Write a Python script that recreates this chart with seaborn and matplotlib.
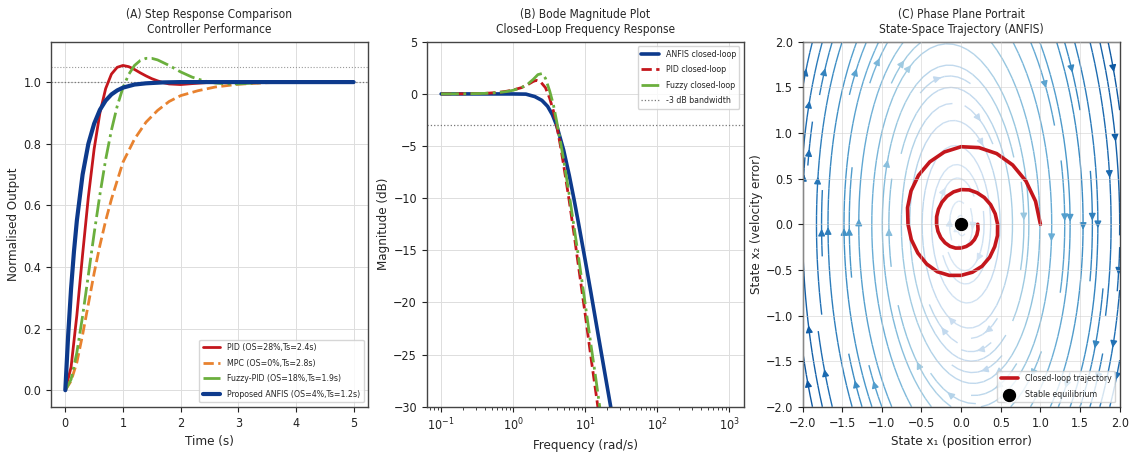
import numpy as np
import matplotlib
matplotlib.use("Agg")
import matplotlib.pyplot as plt
import seaborn as sns

sns.set_style("whitegrid")
plt.rcParams['font.family'] = ['DejaVu Sans']
plt.rcParams['font.stretch'] = 'condensed'
plt.rcParams.update({
    'axes.edgecolor': '#444444', 'axes.linewidth': 1.0,
    'xtick.bottom': True, 'ytick.left': True,
    'xtick.major.size': 3.5, 'ytick.major.size': 3.5,
    'xtick.color': '#222222', 'ytick.color': '#222222',
    'grid.color': '#dddddd', 'grid.linewidth': 0.7,
})

# ---------------- Panel A data: step responses ----------------
t_pid = [0, 0.1, 0.2, 0.3, 0.4, 0.5, 0.6, 0.7, 0.8, 0.9, 1.0, 1.1, 1.2, 1.3, 1.4, 1.5, 1.6, 1.7, 1.8, 2.0, 2.2, 2.5, 3.0, 4.0, 5.0]
y_pid = [0, 0.075, 0.243, 0.441, 0.628, 0.783, 0.900, 0.979, 1.026, 1.048, 1.054, 1.050, 1.041, 1.030, 1.020, 1.011, 1.004, 0.998, 0.994, 0.992, 0.995, 0.999, 1.0, 1.0, 1.0]

t_mpc = [0, 0.1, 0.2, 0.3, 0.4, 0.5, 0.6, 0.7, 0.8, 1.0, 1.2, 1.4, 1.6, 1.8, 2.0, 2.3, 2.6, 3.0, 3.5, 4.0, 5.0]
y_mpc = [0, 0.03, 0.09, 0.18, 0.28, 0.38, 0.47, 0.55, 0.62, 0.74, 0.815, 0.87, 0.908, 0.937, 0.956, 0.972, 0.984, 0.993, 0.998, 1.0, 1.0]

t_fuzzy = [0, 0.1, 0.2, 0.3, 0.4, 0.5, 0.6, 0.7, 0.8, 0.9, 1.0, 1.1, 1.2, 1.3, 1.4, 1.5, 1.6, 1.8, 2.0, 2.2, 2.4, 2.6, 2.8, 3.0, 3.5, 4.0, 5.0]
y_fuzzy = [0, 0.035, 0.122, 0.241, 0.374, 0.509, 0.635, 0.749, 0.844, 0.922, 0.982, 1.025, 1.054, 1.070, 1.077, 1.077, 1.072, 1.054, 1.033, 1.016, 1.004, 0.997, 0.994, 0.994, 0.9995, 1.0, 1.0]

t_anfis = [0, 0.05, 0.1, 0.15, 0.2, 0.3, 0.4, 0.5, 0.6, 0.7, 0.8, 0.9, 1.0, 1.2, 1.4, 1.7, 2.0, 3.0, 4.0, 5.0]
y_anfis = [0, 0.18, 0.33, 0.45, 0.55, 0.70, 0.80, 0.865, 0.91, 0.94, 0.96, 0.973, 0.982, 0.992, 0.996, 0.999, 1.0, 1.0, 1.0, 1.0]

labels_a = ["PID (OS=28%,Ts=2.4s)", "MPC (OS=0%,Ts=2.8s)",
            "Fuzzy-PID (OS=18%,Ts=1.9s)", "Proposed ANFIS (OS=4%,Ts=1.2s)"]

# ---------------- Panel B data: Bode magnitude ----------------
w_anfis = [0.1, 0.3, 1.0, 1.5, 2.0, 2.5, 3.0, 3.5, 4.0, 5.0, 6.0, 7.0, 8.0, 10.0, 12.0, 15.0, 20.0, 25.0, 30.0, 100.0, 1000.0]
db_anfis = [0.0, 0.0, -0.004, -0.02, -0.26, -0.62, -1.19, -2.0, -3.01, -5.37, -7.83, -10.16, -12.3, -16.0, -19.1, -23.0, -27.96, -31.8, -35.0, -55.9, -95.9]

w_pid = [0.1, 0.2, 0.4, 0.6, 0.8, 1.0, 1.3, 1.6, 1.9, 2.1, 2.4, 2.8, 3.2, 3.6, 4.0, 4.5, 5.0, 6.0, 7.0, 8.0, 10.0, 12.0, 14.0, 16.0, 20.0, 50.0, 100.0, 1000.0]
db_pid = [0.0, 0.01, 0.05, 0.13, 0.25, 0.38, 0.6, 0.9, 1.2, 1.3, 1.15, 0.6, -0.4, -1.6, -3.0, -4.9, -6.8, -10.3, -13.5, -16.4, -21.2, -25.3, -28.6, -31.5, -36.0, -55.0, -70.0, -118.0]

w_fuzzy = [0.1, 0.2, 0.4, 0.6, 0.8, 1.0, 1.3, 1.6, 1.9, 2.2, 2.5, 2.8, 3.2, 3.6, 4.0, 4.5, 5.0, 6.0, 7.0, 8.0, 10.0, 12.0, 14.0, 16.0, 20.0, 50.0, 100.0, 1000.0]
db_fuzzy = [0.0, 0.01, 0.05, 0.12, 0.22, 0.35, 0.6, 0.95, 1.4, 1.85, 1.95, 1.5, 0.3, -1.0, -2.6, -4.5, -6.3, -9.7, -12.8, -15.5, -20.2, -24.1, -27.3, -30.2, -35.0, -53.0, -67.0, -115.0]

labels_b = ["ANFIS closed-loop", "PID closed-loop", "Fuzzy closed-loop", "-3 dB bandwidth"]

# ---------------- Panel C data: phase plane ----------------
traj_x1 = [1.000, 0.939, 0.818, 0.650, 0.448, 0.225, 0.000, -0.212, -0.395, -0.537, -0.632, -0.676, -0.670,
           -0.628, -0.546, -0.435, -0.300, -0.150, 0.000, 0.141, 0.265, 0.361, 0.424, 0.459, 0.460,
           0.430, 0.372, 0.293, 0.200, 0.101, 0.000, -0.095, -0.178, -0.242, -0.286, -0.309, -0.310,
           -0.292, -0.255, -0.203, -0.140, -0.070, 0.000, 0.065, 0.123, 0.168, 0.199, 0.213, 0.210]
traj_x2 = [0.000, 0.252, 0.473, 0.650, 0.775, 0.840, 0.850, 0.792, 0.684, 0.537, 0.365, 0.181, 0.000,
           -0.168, -0.315, -0.435, -0.520, -0.560, -0.560, -0.526, -0.459, -0.361, -0.245, -0.123, 0.000,
           0.115, 0.215, 0.293, 0.346, 0.377, 0.380, 0.355, 0.307, 0.242, 0.165, 0.083, 0.000,
           -0.078, -0.148, -0.203, -0.242, -0.261, -0.260, -0.243, -0.212, -0.168, -0.115, -0.057, 0.000]
eq_x1 = [0.0]
eq_x2 = [0.0]
stiffness = 4.0   # x2' = -stiffness*x1 - damping*x2
damping = 0.35

# colours
c_red = '#C4161C'
c_orange = '#E8822F'
c_green = '#6BAF3D'
c_blue = '#0D3A8C'

fig, axes = plt.subplots(1, 3, figsize=(11.31, 4.54), dpi=100)
fig.subplots_adjust(left=0.045, right=0.99, top=0.908, bottom=0.104, wspace=0.185)
title_fs = 8.6
lab_fs = 9.5
tick_fs = 9
leg_kw = dict(fontsize=6.3, frameon=True, labelspacing=0.75, handlelength=2.0)

# ---- Panel A ----
ax = axes[0]
ax.axhline(1.0, color='#777777', ls=':', lw=0.9)
ax.axhline(1.05, color='#999999', ls=':', lw=0.8)
sns.lineplot(x=t_pid, y=y_pid, ax=ax, color=c_red, lw=2.0, label=labels_a[0])
sns.lineplot(x=t_mpc, y=y_mpc, ax=ax, color=c_orange, lw=2.0, ls='--', label=labels_a[1])
sns.lineplot(x=t_fuzzy, y=y_fuzzy, ax=ax, color=c_green, lw=2.0, ls='-.', label=labels_a[2])
sns.lineplot(x=t_anfis, y=y_anfis, ax=ax, color=c_blue, lw=3.0, label=labels_a[3])
ax.set_xticks([0, 1, 2, 3, 4, 5])
ax.set_yticks([0.0, 0.2, 0.4, 0.6, 0.8, 1.0])
ax.set_xlabel("Time (s)", fontsize=lab_fs)
ax.set_ylabel("Normalised Output", fontsize=lab_fs, labelpad=2)
ax.set_title("(A) Step Response Comparison\nController Performance", fontsize=title_fs)
ax.legend(loc='lower right', **leg_kw)
ax.tick_params(labelsize=tick_fs)

# ---- Panel B ----
ax = axes[1]
sns.lineplot(x=w_anfis, y=db_anfis, ax=ax, color=c_blue, lw=2.6, label=labels_b[0])
sns.lineplot(x=w_pid, y=db_pid, ax=ax, color=c_red, lw=2.0, ls='--', label=labels_b[1])
sns.lineplot(x=w_fuzzy, y=db_fuzzy, ax=ax, color=c_green, lw=2.0, ls='-.', label=labels_b[2])
ax.axhline(-3, color='#777777', ls=':', lw=0.9, label=labels_b[3])
ax.set_xscale('log')
ax.set_xlim(10 ** -1.2, 10 ** 3.2)
ax.set_ylim(-30, 5)
ax.set_yticks([5, 0, -5, -10, -15, -20, -25, -30])
ax.tick_params(which='minor', bottom=True, length=2)
ax.set_xlabel("Frequency (rad/s)", fontsize=lab_fs)
ax.set_ylabel("Magnitude (dB)", fontsize=lab_fs, labelpad=2)
ax.set_title("(B) Bode Magnitude Plot\nClosed-Loop Frequency Response", fontsize=title_fs)
ax.legend(loc='upper right', **leg_kw)
ax.tick_params(labelsize=tick_fs)

# ---- Panel C ----
ax = axes[2]
gx = np.linspace(-2, 2, 30)
X1, X2 = np.meshgrid(gx, gx)
U = X2
V = -stiffness * X1 - damping * X2
speed = np.sqrt(U ** 2 + V ** 2)
smax = speed.max()
ax.streamplot(X1, X2, U, V, color=speed, cmap='Blues', density=1.1, linewidth=1.0,
              arrowsize=1.0, norm=matplotlib.colors.Normalize(vmin=-0.15 * smax, vmax=1.15 * smax))
sns.lineplot(x=traj_x1, y=traj_x2, ax=ax, color=c_red, lw=2.6, sort=False, estimator=None,
             label="Closed-loop trajectory")
sns.scatterplot(x=eq_x1, y=eq_x2, ax=ax, color='black', s=110, marker='o', zorder=5,
                label="Stable equilibrium")
ax.set_xlim(-2, 2)
ax.set_ylim(-2, 2)
ax.set_xticks(np.arange(-2, 2.01, 0.5))
ax.set_yticks(np.arange(-2, 2.01, 0.5))
ax.set_xlabel("State x\u2081 (position error)", fontsize=lab_fs)
ax.set_ylabel("State x\u2082 (velocity error)", fontsize=lab_fs, labelpad=2)
ax.set_title("(C) Phase Plane Portrait\nState-Space Trajectory (ANFIS)", fontsize=title_fs)
ax.legend(loc='lower right', **leg_kw)
ax.tick_params(labelsize=tick_fs)
ax.set_axisbelow(False)
ax.grid(True, color='#cccccc', lw=0.6, alpha=0.6)

for a in axes:
    for s in a.spines.values():
        s.set_visible(True)
        s.set_color('#444444')

fig.savefig("out.png", dpi=100)
